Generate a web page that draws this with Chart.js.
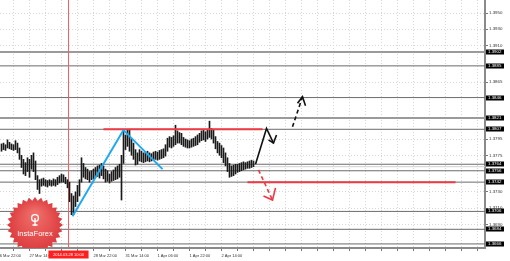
<!DOCTYPE html>
<html>
<head>
<meta charset="utf-8">
<script src="https://cdn.jsdelivr.net/npm/chart.js@4.4.1/dist/chart.umd.min.js"></script>
<style>
  html, body { margin: 0; padding: 0; background: #fff; }
  #wrap { width: 510px; height: 261px; }
</style>
</head>
<body>
<div id="wrap"><canvas id="fx"></canvas></div>
<script>
// H1 bars, index 0 = 27 Mar 00:00
const barHigh = [
    1.3789, 1.3790, 1.3788, 1.3794, 1.3791, 1.3789, 1.3788, 1.3793, 1.3790,
    1.3784, 1.3775, 1.3770, 1.3766, 1.3772, 1.3770, 1.3775, 1.3778, 1.3768, 1.3750, 1.3745,
    1.3746, 1.3747, 1.3745, 1.3744, 1.3745, 1.3744, 1.3746, 1.3745, 1.3748, 1.3750,
    1.3752, 1.3751, 1.3748, 1.3745, 1.3742, 1.3728, 1.3725, 1.3730, 1.3738, 1.3745,
    1.3772, 1.3765, 1.3760, 1.3758, 1.3755, 1.3756, 1.3758, 1.3760, 1.3762, 1.3763,
    1.3765, 1.3762, 1.3758, 1.3756, 1.3752, 1.3755, 1.3757, 1.3760, 1.3762, 1.3764,
    1.3775, 1.3806, 1.3800, 1.3806, 1.3807, 1.3795, 1.3790, 1.3782, 1.3778, 1.3782,
    1.3780, 1.3778, 1.3779, 1.3780, 1.3778, 1.3777, 1.3779, 1.3780, 1.3779, 1.3781,
    1.3782, 1.3783, 1.3788, 1.3796, 1.3798, 1.3797, 1.3799, 1.3812, 1.3805, 1.3803,
    1.3802, 1.3797, 1.3795, 1.3794, 1.3793, 1.3795, 1.3796, 1.3798, 1.3800, 1.3802,
    1.3805, 1.3806, 1.3804, 1.3806, 1.3817, 1.3808, 1.3806, 1.3798, 1.3792, 1.3790,
    1.3787, 1.3784, 1.3778, 1.3772, 1.3765, 1.3762, 1.3763, 1.3764, 1.3764, 1.3765,
    1.3766, 1.3767, 1.3766, 1.3767, 1.3768, 1.3769, 1.3768
];
const barLow = [
    1.3780, 1.3782, 1.3781, 1.3784, 1.3783, 1.3782, 1.3781, 1.3782, 1.3778,
    1.3770, 1.3760, 1.3752, 1.3750, 1.3755, 1.3748, 1.3758, 1.3755, 1.3745, 1.3733, 1.3728,
    1.3737, 1.3738, 1.3737, 1.3736, 1.3738, 1.3737, 1.3738, 1.3737, 1.3739, 1.3741,
    1.3742, 1.3742, 1.3740, 1.3735, 1.3718, 1.3702, 1.3702, 1.3712, 1.3718, 1.3725,
    1.3742, 1.3748, 1.3746, 1.3745, 1.3742, 1.3745, 1.3746, 1.3748, 1.3749, 1.3747,
    1.3750, 1.3746, 1.3742, 1.3743, 1.3741, 1.3743, 1.3744, 1.3745, 1.3746, 1.3748,
    1.3720, 1.3765, 1.3782, 1.3786, 1.3780, 1.3775, 1.3770, 1.3763, 1.3764, 1.3768,
    1.3767, 1.3766, 1.3767, 1.3768, 1.3767, 1.3768, 1.3769, 1.3770, 1.3769, 1.3770,
    1.3771, 1.3772, 1.3774, 1.3780, 1.3785, 1.3784, 1.3786, 1.3788, 1.3790, 1.3790,
    1.3788, 1.3786, 1.3785, 1.3784, 1.3784, 1.3785, 1.3786, 1.3787, 1.3788, 1.3791,
    1.3793, 1.3794, 1.3792, 1.3795, 1.3797, 1.3795, 1.3790, 1.3783, 1.3778, 1.3775,
    1.3772, 1.3766, 1.3762, 1.3755, 1.3748, 1.3749, 1.3750, 1.3752, 1.3754, 1.3755,
    1.3756, 1.3757, 1.3758, 1.3759, 1.3759, 1.3760, 1.3761
];

const timeTicks = [-2, 14, 30, 46, 62, 78, 94, 110];
const timeLabels = ['26 Mar 22:00', '27 Mar 14:00', '28 Mar 06:00', '28 Mar 22:00',
    '31 Mar 14:00', '1 Apr 06:00', '1 Apr 22:00', '2 Apr 14:00'];
const priceTicks = [1.3950, 1.3930, 1.3910, 1.3865, 1.3795, 1.3775, 1.3730, 1.3710, 1.3690];

const levelsThin = [1.3885, 1.3846, 1.3807, 1.3764, 1.3756, 1.3742, 1.3706, 1.3684, 1.3666];
const levelsWide = [1.3902, 1.3821];
const lastPrice = 1.3761;

const markerIndex = 33.5;
const markerLabel = '2014.03.28 10:00';

// drawn analysis: [bar index, price]
const trendUp = [[35.5, 1.3700], [61, 1.3806]];
const trendDown = [[61, 1.3806], [80.5, 1.3758]];
const resistance = [[51, 1.3807], [130.5, 1.3807]];
const support = [[123, 1.3742], [227, 1.3742]];
const mainPath = [[127, 1.3764], [132.5, 1.3808], [136, 1.3790]];
const mainHead = [[133.5, 1.3794], [136, 1.3790], [137.5, 1.3800]];
const bullPath = [[145.5, 1.3810], [150.5, 1.3847]];
const bullHead = [[148, 1.3839], [150.5, 1.3847], [152, 1.3836]];
const bearPath = [[128.5, 1.3757], [135.5, 1.3720]];
const bearHead = [[131, 1.3725], [135.5, 1.3720], [137, 1.3735]];

const xMin = -0.75, xMax = 241.75;
const yMin = 1.3661, yMax = 1.3966;

const ctx = document.getElementById('fx');

function lineSet(pts, color, width, dash, order) {
    return {
        type: 'line',
        data: pts.map(p => ({x: p[0], y: p[1]})),
        borderColor: color,
        borderWidth: width,
        borderDash: dash || [],
        pointRadius: 0,
        fill: false,
        tension: 0,
        order: order === undefined ? 0 : order
    };
}

const datasets = [];
levelsWide.forEach(v => datasets.push(lineSet([[xMin, v], [xMax, v]], '#9a9a9a', 2, null, 4)));
levelsThin.forEach(v => datasets.push(lineSet([[xMin, v], [xMax, v]], '#6b6b6b', 1, null, 4)));
datasets.push(lineSet([[xMin, lastPrice], [xMax, lastPrice]], '#d0d0d0', 1, null, 4));
datasets.push(lineSet([[markerIndex, yMin], [markerIndex, yMax]], '#ff5b5b', 1, null, 3));

datasets.push({
    type: 'bar',
    data: barHigh.map((h, i) => ({x: i, y: [barLow[i], h]})),
    backgroundColor: '#1a1a1a',
    barThickness: 1,
    grouped: false,
    order: 2
});

datasets.push(lineSet(trendUp, '#1ea9f2', 2));
datasets.push(lineSet(trendDown, '#1ea9f2', 2));
datasets.push(lineSet(resistance, '#ec3b44', 2));
datasets.push(lineSet(support, '#ec3b44', 2));
datasets.push(lineSet(mainPath, '#111', 1.6));
datasets.push(lineSet(mainHead, '#111', 1.6));
datasets.push(lineSet(bullPath, '#111', 1.6, [4, 3]));
datasets.push(lineSet(bullHead, '#111', 1.6));
datasets.push(lineSet(bearPath, '#ec3b44', 1.6, [4, 3]));
datasets.push(lineSet(bearHead, '#ec3b44', 1.6));

const logoPlugin = {
    id: 'logo',
    afterDatasetsDraw(chart) {
        const {ctx, chartArea} = chart;
        const cx = 35, cy = 225, rOut = 28, rIn = 24.5, teeth = 28;
        ctx.save();
        ctx.beginPath();
        ctx.rect(chartArea.left, chartArea.top, chartArea.right - chartArea.left, chartArea.bottom - chartArea.top);
        ctx.clip();
        ctx.beginPath();
        for (let k = 0; k < teeth * 2; k++) {
            const a = Math.PI * k / teeth - Math.PI / 2;
            const r = k % 2 ? rIn : rOut;
            const px = cx + r * Math.cos(a), py = cy + r * Math.sin(a);
            if (k === 0) ctx.moveTo(px, py); else ctx.lineTo(px, py);
        }
        ctx.closePath();
        const g = ctx.createRadialGradient(cx, cy - 12, 2, cx, cy, rOut);
        g.addColorStop(0, '#ef6f6a');
        g.addColorStop(1, '#dc3a3d');
        ctx.fillStyle = g;
        ctx.fill();
        // emblem
        ctx.strokeStyle = '#fff';
        ctx.lineWidth = 1.4;
        ctx.beginPath();
        ctx.arc(cx, cy - 7, 3.4, 0, Math.PI * 2);
        ctx.stroke();
        ctx.beginPath();
        ctx.moveTo(cx, cy - 7);
        ctx.lineTo(cx, cy + 1);
        ctx.moveTo(cx - 2.5, cy);
        ctx.lineTo(cx + 2.5, cy);
        ctx.stroke();
        ctx.fillStyle = '#fff';
        ctx.font = '7.5px "Liberation Sans"';
        ctx.textAlign = 'center';
        ctx.textBaseline = 'middle';
        ctx.fillText('InstaForex', cx, cy + 9);
        ctx.restore();
    }
};

const boxPlugin = {
    id: 'boxes',
    afterDraw(chart) {
        const {ctx, chartArea, scales} = chart;
        ctx.save();
        ctx.font = '4.4px "Liberation Sans"';
        ctx.textBaseline = 'middle';
        levelsWide.concat(levelsThin).forEach(v => {
            const py = Math.round(scales.y.getPixelForValue(v));
            ctx.fillStyle = '#000';
            ctx.fillRect(chartArea.right + 1, py - 2.5, 18, 5);
            ctx.fillStyle = '#fff';
            ctx.fillText(v.toFixed(4), chartArea.right + 3, py);
        });
        const px = scales.x.getPixelForValue(markerIndex);
        ctx.font = '4px "Liberation Sans"';
        const w = ctx.measureText(markerLabel).width + 9;
        ctx.fillStyle = '#ff1e1e';
        ctx.fillRect(px - w / 2, chartArea.bottom + 2.5, w, 8);
        ctx.fillStyle = '#fff';
        ctx.textAlign = 'center';
        ctx.fillText(markerLabel, px, chartArea.bottom + 6.8);
        ctx.restore();
    }
};

function noPad(scale) {
    scale.paddingLeft = 0;
    scale.paddingRight = 0;
    scale.paddingTop = 0;
    scale.paddingBottom = 0;
}

new Chart(ctx, {
    data: {datasets: datasets},
    options: {
        responsive: true,
        maintainAspectRatio: false,
        animation: false,
        events: [],
        layout: {padding: 0},
        plugins: {legend: {display: false}, tooltip: {enabled: false}},
        scales: {
            x: {
                type: 'linear',
                offset: false,
                min: xMin,
                max: xMax,
                afterBuildTicks: scale => {
                    const t = [];
                    for (let v = -2; v <= 238; v += 8) t.push({value: v});
                    scale.ticks = t;
                },
                afterFit: scale => { scale.height = 13; noPad(scale); },
                ticks: {
                    autoSkip: false,
                    maxRotation: 0,
                    align: 'start',
                    padding: 2,
                    color: '#333',
                    font: {family: 'Liberation Sans', size: 4},
                    callback: v => {
                        const k = timeTicks.indexOf(v);
                        return k >= 0 ? timeLabels[k] : '';
                    }
                },
                grid: {offset: false, color: '#d6d6d6', tickLength: 3, tickColor: '#777'},
                border: {display: true, color: '#8a8a8a', width: 2, dash: [1, 2]}
            },
            y: {
                type: 'linear',
                position: 'right',
                min: yMin,
                max: yMax,
                afterBuildTicks: scale => {
                    scale.ticks = priceTicks.map(v => ({value: v}));
                },
                afterFit: scale => { scale.width = 25; noPad(scale); },
                ticks: {
                    padding: 1,
                    color: '#333',
                    font: {family: 'Liberation Sans', size: 4.4},
                    callback: v => Number(v).toFixed(4)
                },
                grid: {color: '#d6d6d6', tickLength: 3, tickColor: '#777'},
                border: {display: true, color: '#8a8a8a', width: 2, dash: [1, 2]}
            }
        }
    },
    plugins: [logoPlugin, boxPlugin]
});
</script>
</body>
</html>
